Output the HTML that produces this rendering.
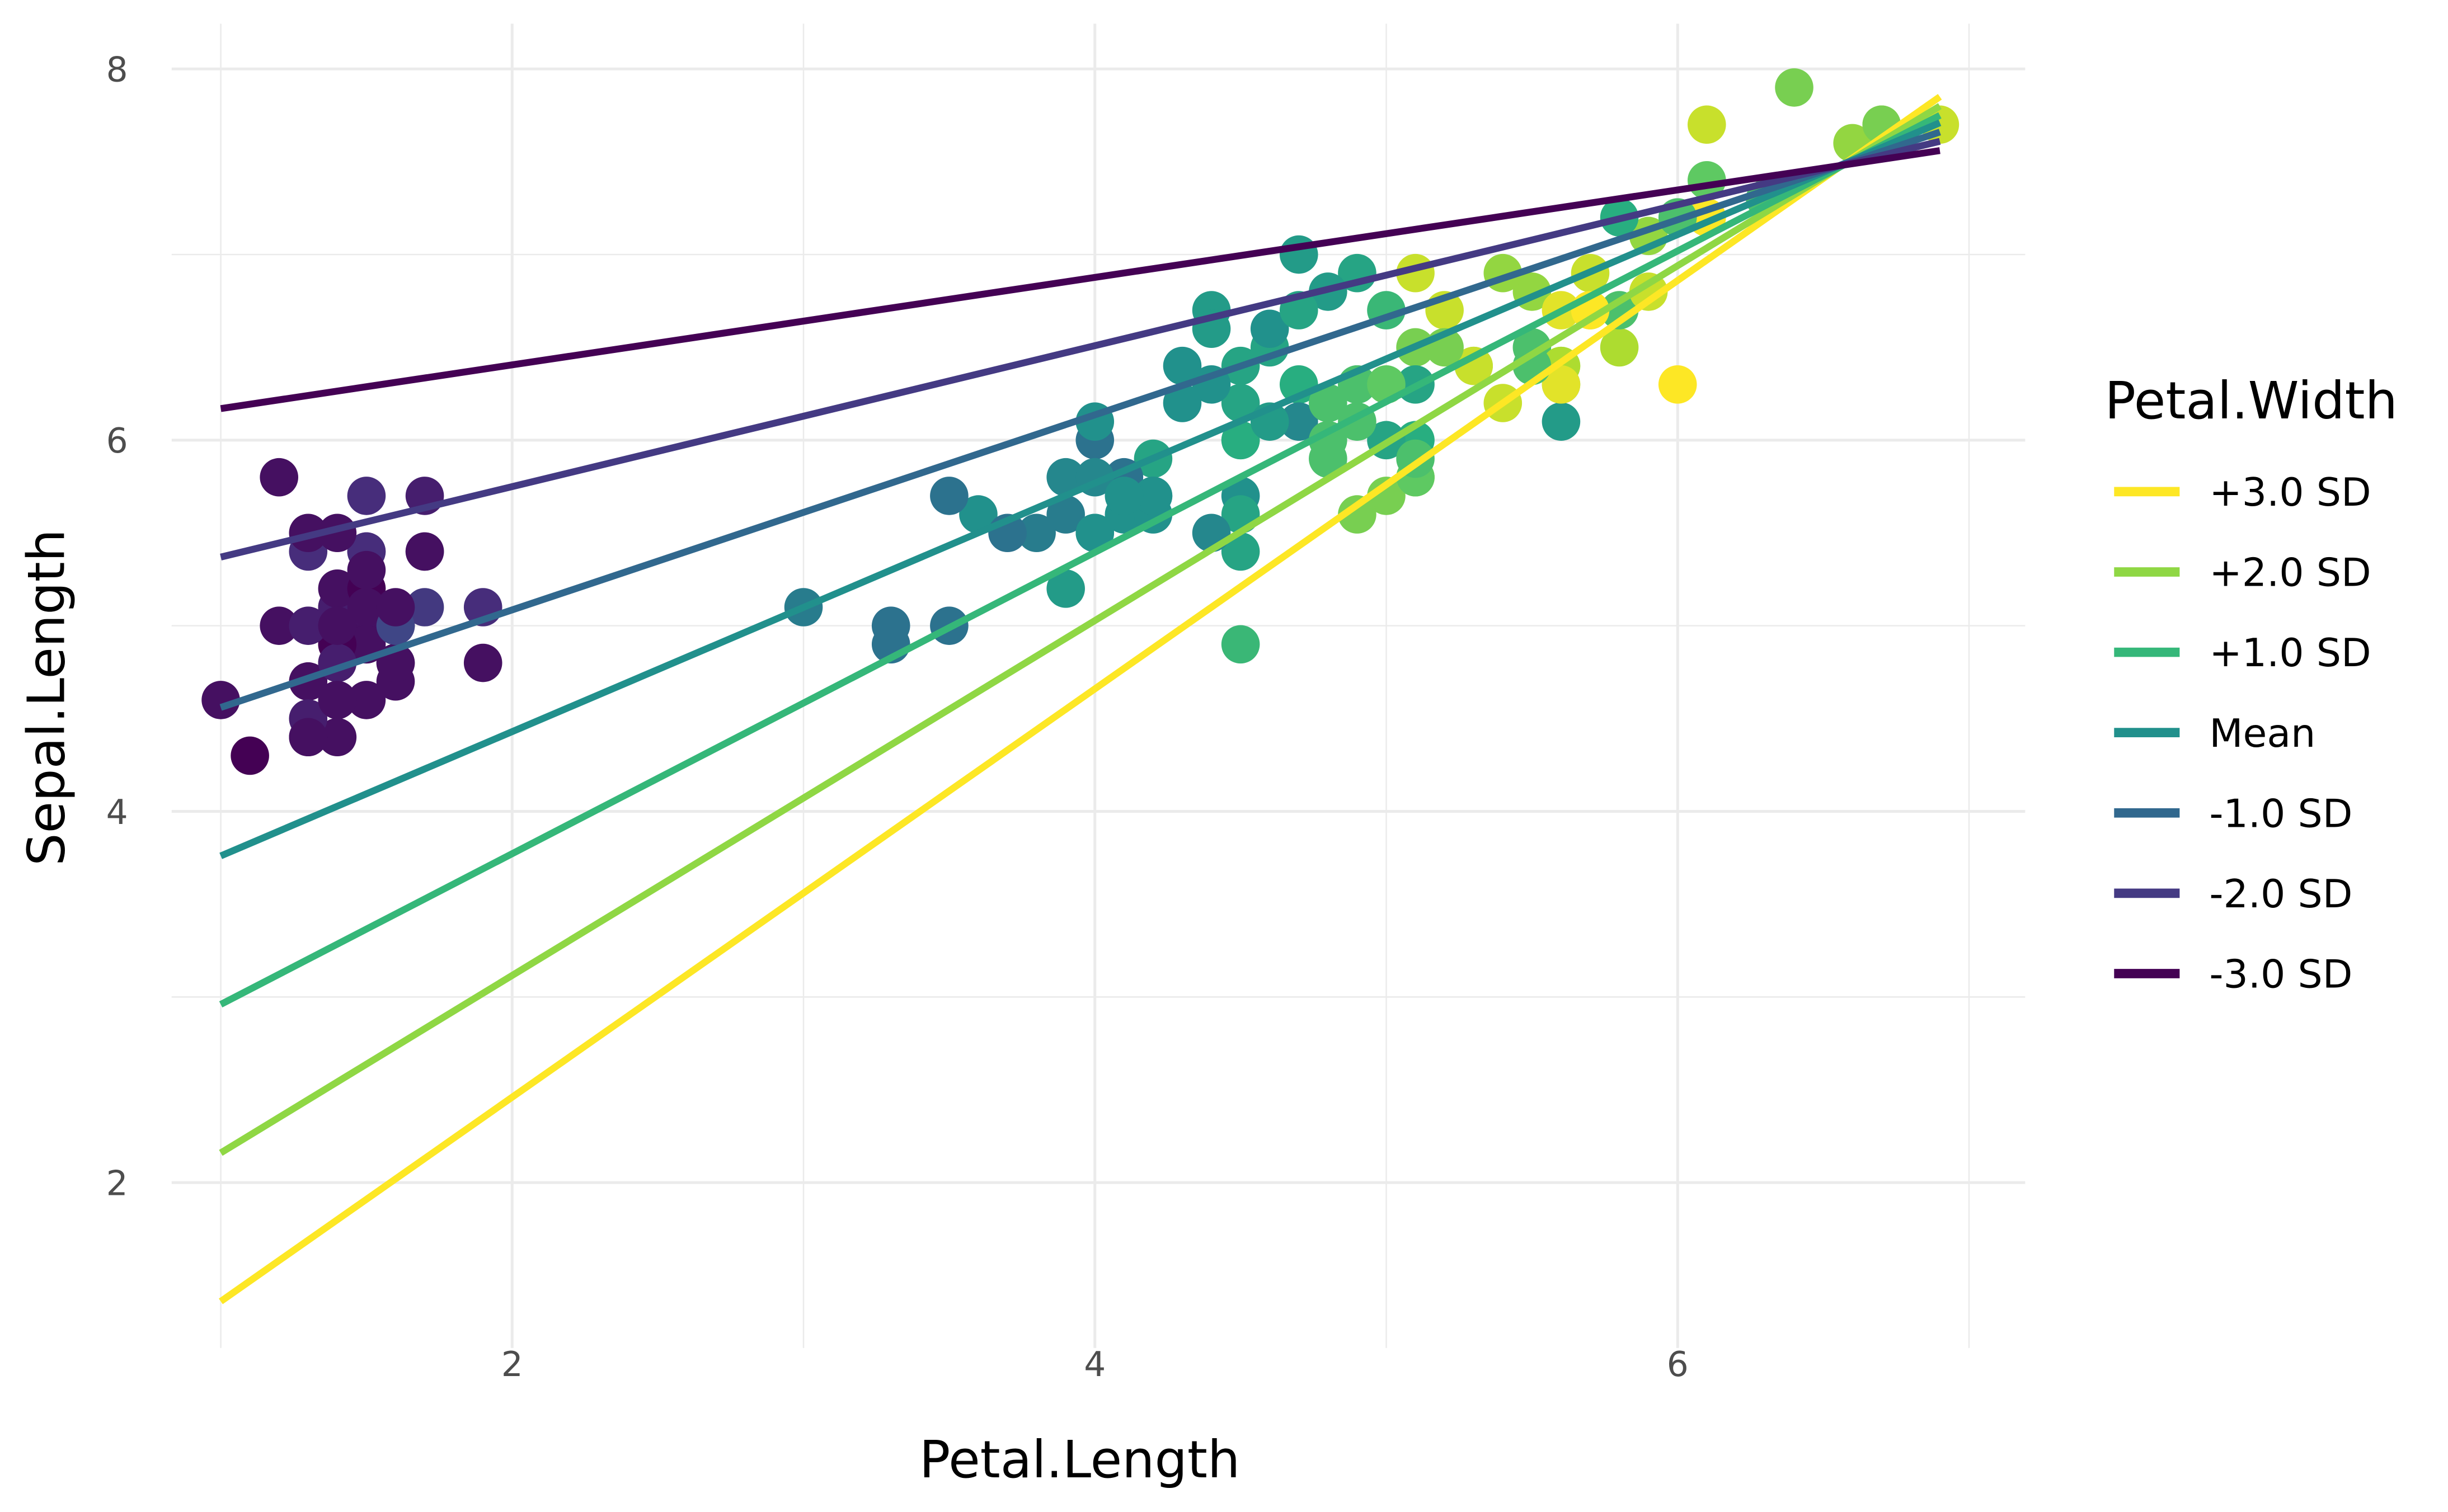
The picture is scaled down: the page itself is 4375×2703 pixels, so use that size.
<!DOCTYPE html>
<html><head><meta charset="utf-8"><style>html,body{margin:0;padding:0;background:#fff}svg{display:block}text{font-family:"DejaVu Sans","Liberation Sans",sans-serif}</style></head>
<body>
<svg id="chart" width="4375" height="2703" viewBox="0 0 1569 969" xmlns="http://www.w3.org/2000/svg">
<g id="grid"></g>
<g id="points"></g>
<g id="lines"></g>
<g id="axes"></g>
<text x="692" y="947" font-size="33" text-anchor="middle" fill="#000">Petal.Length</text>
<text x="0" y="0" font-size="33" text-anchor="middle" fill="#000" transform="translate(41,447) rotate(-90)">Sepal.Length</text>
<g id="legend">
<text x="1349" y="268" font-size="33" fill="#000">Petal.Width</text>
</g>
</svg>
<script>
const petalLength=[1.4,1.4,1.3,1.5,1.4,1.7,1.4,1.5,1.4,1.5,1.5,1.6,1.4,1.1,1.2,1.5,1.3,1.4,1.7,1.5,1.7,1.5,1.0,1.7,1.9,1.6,1.6,1.5,1.4,1.6,1.6,1.5,1.5,1.4,1.5,1.2,1.3,1.4,1.3,1.5,1.3,1.3,1.3,1.6,1.9,1.4,1.6,1.4,1.5,1.4,
4.7,4.5,4.9,4.0,4.6,4.5,4.7,3.3,4.6,3.9,3.5,4.2,4.0,4.7,3.6,4.4,4.5,4.1,4.5,3.9,4.8,4.0,4.9,4.7,4.3,4.4,4.8,5.0,4.5,3.5,3.8,3.7,3.9,5.1,4.5,4.5,4.7,4.4,4.1,4.0,4.4,4.6,4.0,3.3,4.2,4.2,4.2,4.3,3.0,4.1,
6.0,5.1,5.9,5.6,5.8,6.6,4.5,6.3,5.8,6.1,5.1,5.3,5.5,5.0,5.1,5.3,5.5,6.7,6.9,5.0,5.7,4.9,6.7,4.9,5.7,6.0,4.8,4.9,5.6,5.8,6.1,6.4,5.6,5.1,5.6,6.1,5.6,5.5,4.8,5.4,5.6,5.1,5.1,5.9,5.7,5.2,5.0,5.2,5.4,5.1];
const sepalLength=[5.1,4.9,4.7,4.6,5.0,5.4,4.6,5.0,4.4,4.9,5.4,4.8,4.8,4.3,5.8,5.7,5.4,5.1,5.7,5.1,5.4,5.1,4.6,5.1,4.8,5.0,5.0,5.2,5.2,4.7,4.8,5.4,5.2,5.5,4.9,5.0,5.5,4.9,4.4,5.1,5.0,4.5,4.4,5.0,5.1,4.8,5.1,4.6,5.3,5.0,
7.0,6.4,6.9,5.5,6.5,5.7,6.3,4.9,6.6,5.2,5.0,5.9,6.0,6.1,5.6,6.7,5.6,5.8,6.2,5.6,5.9,6.1,6.3,6.1,6.4,6.6,6.8,6.7,6.0,5.7,5.5,5.5,5.8,6.0,5.4,6.0,6.7,6.3,5.6,5.5,5.5,6.1,5.8,5.0,5.6,5.7,5.7,6.2,5.1,5.7,
6.3,5.8,7.1,6.3,6.5,7.6,4.9,7.3,6.7,7.2,6.5,6.4,6.8,5.7,5.8,6.4,6.5,7.7,7.7,6.0,6.9,5.6,7.7,6.3,6.7,7.2,6.2,6.1,6.4,7.2,7.4,7.9,6.4,6.3,6.1,7.7,6.3,6.4,6.0,6.9,6.7,6.9,5.8,6.8,6.7,6.7,6.3,6.5,6.2,5.9];
const petalWidth=[0.2,0.2,0.2,0.2,0.2,0.4,0.3,0.2,0.2,0.1,0.2,0.2,0.1,0.1,0.2,0.4,0.4,0.3,0.3,0.3,0.2,0.4,0.2,0.5,0.2,0.2,0.4,0.2,0.2,0.2,0.2,0.4,0.1,0.2,0.2,0.2,0.2,0.1,0.2,0.2,0.3,0.3,0.2,0.6,0.4,0.3,0.2,0.2,0.2,0.2,
1.4,1.5,1.5,1.3,1.5,1.3,1.6,1.0,1.3,1.4,1.0,1.5,1.0,1.4,1.3,1.4,1.5,1.0,1.5,1.1,1.8,1.3,1.5,1.2,1.3,1.4,1.4,1.7,1.5,1.0,1.1,1.0,1.2,1.6,1.5,1.6,1.5,1.3,1.3,1.3,1.2,1.4,1.2,1.0,1.3,1.2,1.3,1.3,1.1,1.3,
2.5,1.9,2.1,1.8,2.2,2.1,1.7,1.8,1.8,2.5,2.0,1.9,2.1,2.0,2.4,2.3,1.8,2.2,2.3,1.5,2.3,2.0,2.0,1.8,2.1,1.8,1.8,1.8,2.1,1.6,1.9,2.0,2.2,1.5,1.4,2.3,2.4,1.8,1.8,2.1,2.4,2.3,1.9,2.3,2.5,2.3,1.9,2.0,2.3,1.8];
const lineLabels=["+3.0 SD","+2.0 SD","+1.0 SD","Mean","-1.0 SD","-2.0 SD","-3.0 SD"];
const lineColors=["#FDE725","#8FD744","#35B779","#21908C","#31688E","#443A83","#440154"];
const lineX=[1.0,6.9];
const lineYStart=[1.36,2.16,2.96,3.76,4.56,5.37,6.17];
const lineYEnd=[7.85,7.80,7.75,7.71,7.66,7.61,7.56];
const xTicks=[2,4,6];const xMinor=[1,3,5,7];
const yTicks=[2,4,6,8];const yMinor=[3,5,7];

const NS="http://www.w3.org/2000/svg";
const X=v=>141.5+(v-1)*186.75;
const Y=v=>44+(8-v)*119;
const L=110,R=1298,T=15,B=864;
function mk(tag,attrs,parent){const e=document.createElementNS(NS,tag);for(const k in attrs)e.setAttribute(k,attrs[k]);parent.appendChild(e);return e;}
const grid=document.getElementById('grid');
yMinor.forEach(v=>{const e=mk('line',{x1:L,x2:R,y1:Y(v),y2:Y(v),stroke:'#EBEBEB','stroke-width':0.9},grid);

});
xMinor.forEach(v=>{const e=mk('line',{x1:X(v),x2:X(v),y1:T,y2:B,stroke:'#EBEBEB','stroke-width':0.9},grid);

});
yTicks.forEach(v=>{const e=mk('line',{x1:L,x2:R,y1:Y(v),y2:Y(v),stroke:'#EBEBEB','stroke-width':1.8},grid);

});
xTicks.forEach(v=>{const e=mk('line',{x1:X(v),x2:X(v),y1:T,y2:B,stroke:'#EBEBEB','stroke-width':1.8},grid);

});
const axes=document.getElementById('axes');
xTicks.forEach(v=>{const t=mk('text',{x:X(v),y:882,'font-size':22,'text-anchor':'middle',fill:'#4D4D4D'},axes);t.textContent=v;

});
yTicks.forEach(v=>{const t=mk('text',{x:82,y:Y(v)+8,'font-size':22,'text-anchor':'end',fill:'#4D4D4D'},axes);t.textContent=v;

});
const vir=["#440154","#472D7B","#3B528B","#2C728E","#21918C","#28AE80","#5EC962","#ADDC30","#FDE725"];
function hx(c){return [1,3,5].map(i=>parseInt(c.substr(i,2),16));}
function viridis(t){t=Math.max(0,Math.min(1,t));const p=t*(vir.length-1);const i=Math.min(vir.length-2,Math.floor(p));const f=p-i;const a=hx(vir[i]),b=hx(vir[i+1]);return 'rgb('+a.map((v,k)=>Math.round(v+(b[k]-v)*f)).join(',')+')';}
const wmin=Math.min(...petalWidth),wmax=Math.max(...petalWidth);
const pts=document.getElementById('points');
petalLength.forEach((x,i)=>{const c=mk('circle',{cx:X(x),cy:Y(sepalLength[i]),r:12.3,fill:viridis((petalWidth[i]-wmin)/(wmax-wmin))},pts);

});
const lines=document.getElementById('lines');
lineLabels.forEach((lab,i)=>{const l=mk('line',{x1:X(lineX[0]),y1:Y(lineYStart[i]),x2:X(lineX[1]),y2:Y(lineYEnd[i]),stroke:lineColors[i],'stroke-width':4.4},lines);

});
const leg=document.getElementById('legend');
lineLabels.forEach((lab,i)=>{const cy=315+i*51.5;
const g=mk('g',{},leg);


mk('line',{x1:1355,x2:1397,y1:cy,y2:cy,stroke:lineColors[i],'stroke-width':6},g);
const t=mk('text',{x:1416,y:cy+9,'font-size':25,fill:'#000'},g);t.textContent=lab;});
</script>
</body></html>
